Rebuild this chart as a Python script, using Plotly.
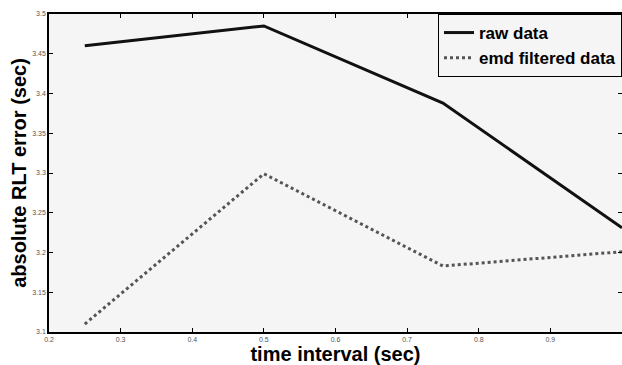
import plotly.graph_objects as go

time_interval = [0.25, 0.5, 0.75, 1.0]
raw_data = [3.46, 3.485, 3.388, 3.231]
emd_filtered = [3.11, 3.299, 3.183, 3.201]
x_ticks = [0.2, 0.3, 0.4, 0.5, 0.6, 0.7, 0.8, 0.9, 1.0]
x_labels = ["0.2", "0.3", "0.4", "0.5", "0.6", "0.7", "0.8", "0.9", "1"]
y_ticks = [3.1, 3.15, 3.2, 3.25, 3.3, 3.35, 3.4, 3.45, 3.5]
y_labels = ["3.1", "3.15", "3.2", "3.25", "3.3", "3.35", "3.4", "3.45", "3.5"]

fig = go.Figure()
fig.add_trace(go.Scatter(x=time_interval, y=raw_data, mode="lines", name="<b>raw data</b>",
                         line=dict(color="#111111", width=3)))
fig.add_trace(go.Scatter(x=time_interval, y=emd_filtered, mode="lines", name="<b>emd filtered data</b>",
                         line=dict(color="#555555", width=3, dash="dot")))

axis_common = dict(showgrid=False, zeroline=False, showline=True, linecolor="black", linewidth=1.5,
                   mirror="ticks", ticks="inside", ticklen=4, tickcolor="black",
                   tickfont=dict(family="Liberation Sans, Arial", size=7, color="#555555"))

fig.update_layout(
    width=622, height=365,
    margin=dict(l=49, r=0, t=14, b=33),
    paper_bgcolor="white", plot_bgcolor="#f5f5f5",
    font=dict(family="Liberation Sans, Arial", color="black"),
    xaxis=dict(range=[0.2, 1.0], tickvals=x_ticks, ticktext=x_labels,
               title=dict(text="<b>time interval (sec)</b>", font=dict(size=20), standoff=0),
               automargin=False, **axis_common),
    yaxis=dict(range=[3.1, 3.5], tickvals=y_ticks, ticktext=y_labels,
               title=dict(text="<b>absolute RLT error (sec)</b>", font=dict(size=20), standoff=0),
               automargin=False, **axis_common),
    legend=dict(x=1, xanchor="right", y=1, yanchor="top", bordercolor="black", borderwidth=1,
                bgcolor="#f5f5f5", font=dict(size=17), itemwidth=30, tracegroupgap=0),
    showlegend=True,
)

fig.write_html("out.html", config={"displayModeBar": False},
               post_script="document.body.style.margin='0';document.body.style.overflow='hidden';")
